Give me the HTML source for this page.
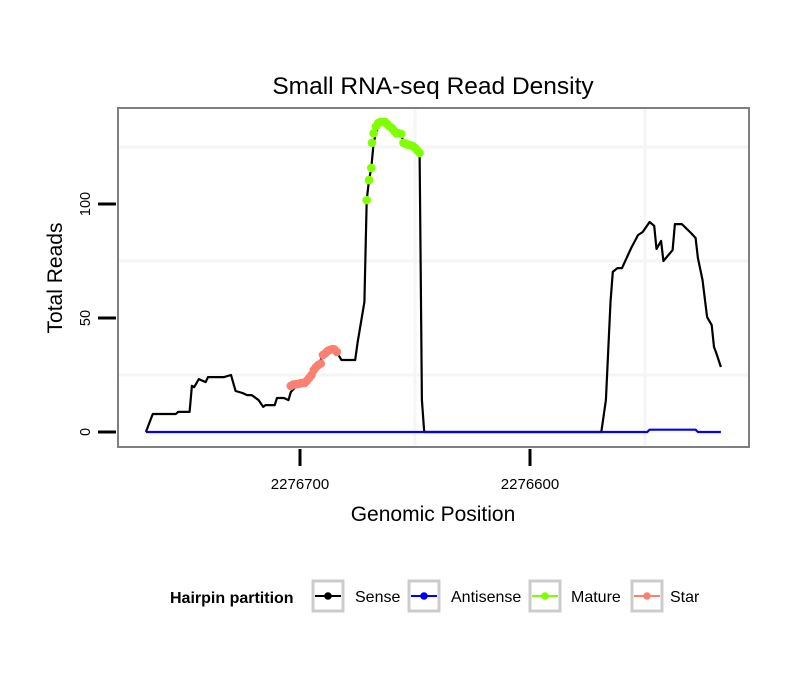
<!DOCTYPE html>
<html><head><meta charset="utf-8"><style>
body{margin:0;background:#fff;}
svg text{font-family:"Liberation Sans",sans-serif;}
</style></head><body>
<svg id="chart" width="810" height="690" viewBox="0 0 810 690" xmlns="http://www.w3.org/2000/svg">
<text x="433" y="94" font-size="24.5" text-anchor="middle">Small RNA-seq Read Density</text>
<rect x="118" y="108" width="631" height="339" fill="#fff"/>
<g id="grid"></g>
<g id="series"></g>
<rect x="118" y="108" width="631" height="339" fill="none" stroke="#7f7f7f" stroke-width="2"/>
<g id="axes"></g>
<text x="433" y="521" font-size="21" text-anchor="middle">Genomic Position</text>
<text transform="translate(62,278) rotate(-90)" font-size="21" text-anchor="middle">Total Reads</text>
<g>
<text x="170" y="603" font-size="16" font-weight="bold">Hairpin partition</text>
<g id="legend"></g>
</g>
</svg>
<script>
const xTicks = [2276700, 2276600];
const xMinor = [2276650, 2276550];
const yTicks = [0, 50, 100];
const yMinor = [25, 75, 125];
const sensePos = [2276767,2276765,2276764,2276754,2276753,2276748,2276747,2276746,2276744,2276741,2276740,2276733,2276730,2276728,2276725,2276723,2276721,2276718,2276716,2276715,2276711,2276710,2276707,2276705,2276704,2276701,2276698,2276696,2276694,2276692,2276690,2276688,2276686,2276684,2276682,2276676,2276675,2276672,2276671,2276670,2276669,2276668,2276667,2276666,2276665,2276663,2276662,2276660,2276658,2276656,2276655,2276653,2276651,2276650,2276648,2276647,2276646,2276569,2276567,2276565,2276564,2276562,2276560,2276556,2276553,2276551,2276548,2276546,2276545,2276543,2276542,2276538,2276537,2276534,2276530,2276528,2276527,2276525,2276523,2276521,2276520,2276519,2276517];
const senseVal = [0,5.3,7.9,7.9,8.8,8.8,20.2,19.7,23.2,21.9,24.1,24.1,25,18,17.1,16.2,16.2,14,11,11.8,11.8,14.9,14.9,14,17.5,21,21.5,23.7,27.2,29.4,33.8,35.5,36.4,35.1,31.6,31.6,39,57,101.7,110.5,115.8,126.8,131,134,135.5,136,136,133.3,131,130.7,126.8,126,125.4,124.6,122.4,14,0,0,14,57,70.2,71.9,71.9,80.7,86.4,87.7,92.1,90.4,80.3,83.8,75,79.8,91.2,91.2,87.3,85.1,76.3,66.7,50.4,46.9,37.3,34.6,28.5];
const antiPos = [2276767,2276549,2276548,2276528,2276527,2276517];
const antiVal = [0,0,1,1,0,0];
const starPos = [2276704,2276703,2276702,2276701,2276700,2276699,2276698,2276697,2276696,2276695,2276694,2276693,2276692,2276691,2276690,2276689,2276688,2276687,2276686,2276685,2276684];
const starVal = [20.2,20.8,21,21,21.3,21.5,21.5,22.5,23.7,25,27.2,28.5,29.4,30,33.8,34.5,35.5,36,36.4,36.2,35.1];
const maturePos = [2276671,2276670,2276669,2276668.7,2276668,2276667,2276666,2276665,2276664,2276663,2276662,2276661,2276660,2276659,2276658,2276657,2276656,2276655,2276654,2276653,2276652,2276651,2276650,2276649,2276648];
const matureVal = [101.7,110.5,115.8,126.8,131,134,135.5,136,136,136,135,134,133.3,132,131,131,130.7,126.8,126.5,126,125.8,125.4,124.6,123.5,122.4];
const legendLabels = ["Sense","Antisense","Mature","Star"];
const legendColors = ["#000000","#0000ff","#7fff00","#fa8072"];

const xScale = p => 300 + (2276700 - p) * 2.3;
const yScale = v => 432 - v * 2.28;
const NS = "http://www.w3.org/2000/svg";
function mk(tag, parent, attrs){const e=document.createElementNS(NS,tag);for(const k in attrs)e.setAttribute(k,attrs[k]);parent.appendChild(e);return e;}
const grid=document.getElementById('grid'), series=document.getElementById('series'), axes=document.getElementById('axes'), legend=document.getElementById('legend');

yMinor.forEach(v=>{const l=mk('line',grid,{x1:118,x2:749,y1:yScale(v),y2:yScale(v),stroke:'#f5f5f5','stroke-width':3});

});
xMinor.forEach(p=>{const l=mk('line',grid,{x1:xScale(p),x2:xScale(p),y1:108,y2:447,stroke:'#f5f5f5','stroke-width':3});

});

function path(xs, ys, color, name){
  const d = xs.map((p,i)=>(i?'L':'M')+xScale(p).toFixed(1)+','+yScale(ys[i]).toFixed(1)).join(' ');
  const e = mk('path',series,{d:d,fill:'none',stroke:color,'stroke-width':2.2,'stroke-linejoin':'round'});
  
  
}
path(sensePos,senseVal,'#000','sense-line');
path(antiPos,antiVal,'#0000ff','antisense-line');
function dots(xs, ys, color, name){
  xs.forEach((p,i)=>{const c=mk('circle',series,{cx:xScale(p),cy:yScale(ys[i]),r:4.3,fill:color});
  
  });
}
dots(starPos,starVal,'#fa8072','star-point');
dots(maturePos,matureVal,'#7fff00','mature-point');

yTicks.forEach(v=>{
  const l=mk('line',axes,{x1:98,x2:116,y1:yScale(v),y2:yScale(v),stroke:'#000','stroke-width':3});
  
  
  const t=mk('text',axes,{transform:`translate(90,${yScale(v)}) rotate(-90)`,'font-size':14.5,'text-anchor':'middle'});
  t.textContent=v;
  
  
});
xTicks.forEach(p=>{
  const l=mk('line',axes,{x1:xScale(p),x2:xScale(p),y1:449,y2:466,stroke:'#000','stroke-width':3});
  
  
  const t=mk('text',axes,{x:xScale(p),y:489,'font-size':15,'text-anchor':'middle'});
  t.textContent=p;
  
  
});

const lx=[328,424,545,647], tx=[355,451,571,670];
legendLabels.forEach((lab,i)=>{
  const g=mk('g',legend,{});
  
  
  mk('rect',g,{x:lx[i]-15,y:581,width:30,height:30,fill:'#fff',stroke:'#cccccc','stroke-width':3});
  mk('line',g,{x1:lx[i]-13,x2:lx[i]+13,y1:596,y2:596,stroke:legendColors[i],'stroke-width':2});
  mk('circle',g,{cx:lx[i],cy:596,r:3.8,fill:legendColors[i]});
  const t=mk('text',g,{x:tx[i],y:602,'font-size':16});
  t.textContent=lab;
});
</script>
</body></html>
